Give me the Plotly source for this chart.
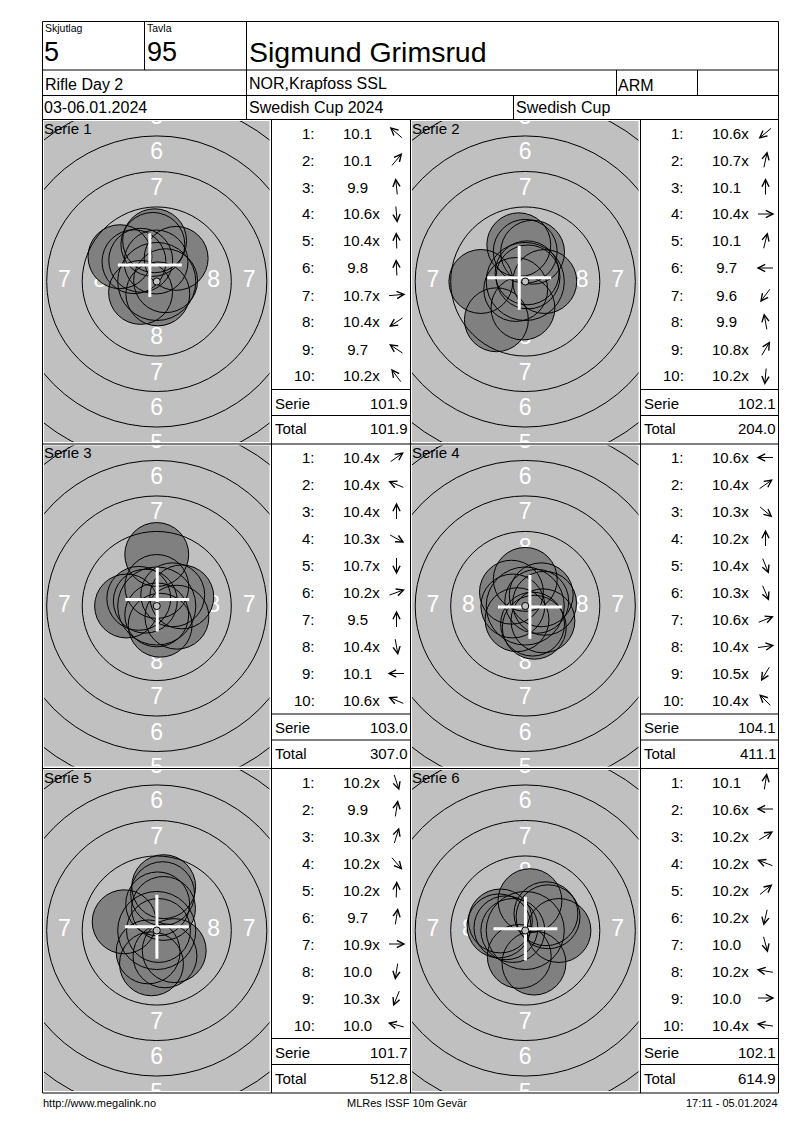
import numpy as np
import plotly.graph_objects as go

# header / footer texts
skjutlag = "5"
tavla = "95"
shooter = "Sigmund Grimsrud"
event = "Rifle Day 2"
club = "NOR,Krapfoss SSL"
klass = "ARM"
dates = "03-06.01.2024"
competition = "Swedish Cup 2024"
cup = "Swedish Cup"
footer_left = "http://www.megalink.no"
footer_mid = "MLRes ISSF 10m Gevär"
footer_right = "17:11 - 05.01.2024"

# shots as printed, and direction of the arrow (degrees, 0 = right, 90 = up)
scores_1 = ["10.1", "10.1", "9.9", "10.6x", "10.4x", "9.8", "10.7x", "10.4x", "9.7", "10.2x"]
angles_1 = [139, 50, 96, 275, 92, 93, 5, 214, 146, 127]
scores_2 = ["10.6x", "10.7x", "10.1", "10.4x", "10.1", "9.7", "9.6", "9.9", "10.8x", "10.2x"]
angles_2 = [220, 78, 90, 0, 76, 180, 233, 100, 59, 265]
scores_3 = ["10.4x", "10.4x", "10.4x", "10.3x", "10.7x", "10.2x", "9.5", "10.4x", "10.1", "10.6x"]
angles_3 = [35, 157, 90, 331, 270, 20, 90, 280, 180, 157]
scores_4 = ["10.6x", "10.4x", "10.3x", "10.2x", "10.4x", "10.3x", "10.6x", "10.4x", "10.5x", "10.4x"]
angles_4 = [180, 35, 320, 90, 292, 293, 22, 8, 239, 135]
scores_5 = ["10.2x", "9.9", "10.3x", "10.2x", "10.2x", "9.7", "10.9x", "10.0", "10.3x", "10.0"]
angles_5 = [288, 81, 73, 311, 88, 81, 0, 261, 248, 165]
scores_6 = ["10.1", "10.6x", "10.2x", "10.2x", "10.2x", "10.2x", "10.0", "10.2x", "10.0", "10.4x"]
angles_6 = [81, 180, 31, 159, 39, 257, 285, 170, 0, 172]

all_scores = [scores_1, scores_2, scores_3, scores_4, scores_5, scores_6]
all_angles = [angles_1, angles_2, angles_3, angles_4, angles_5, angles_6]

# 10m air rifle target (mm)
ring_radius = [2.75, 5.25, 7.75, 10.25, 12.75]
label_text = ["8", "7", "6", "5"]
label_radius = [4.0, 6.5, 9.0, 11.5]
pellet_r = 2.25
dot_r = 0.25

W, H = 800, 1130
FONT = "Arial, Liberation Sans, sans-serif"
MM = 14.2  # px per mm on the page

def px(x):
    return x / W

def py(y):
    return 1 - y / H

col_lines = [42.5, 271.5, 410.5, 640.5, 778.5]
row_lines = [119.5, 444, 768.5, 1093]

fig = go.Figure()
shapes = []
annots = []

def hline(x0, x1, y):
    shapes.append(dict(type="line", xref="paper", yref="paper", x0=px(x0), x1=px(x1),
                       y0=py(y), y1=py(y), line=dict(color="black", width=1), layer="above"))

def vline(x, y0, y1):
    shapes.append(dict(type="line", xref="paper", yref="paper", x0=px(x), x1=px(x),
                       y0=py(y0), y1=py(y1), line=dict(color="black", width=1), layer="above"))

def text(s, x, y, size, anchor="left", color="black"):
    annots.append(dict(text=s, x=px(x), y=py(y), xref="paper", yref="paper", showarrow=False,
                       xanchor=anchor, yanchor="middle", borderpad=0,
                       font=dict(family=FONT, size=size, color=color)))

# header grid
hline(42.5, 778.5, 21.5)
hline(42.5, 778.5, 70)
hline(42.5, 778.5, 95.5)
hline(42.5, 778.5, row_lines[0])
vline(42.5, 21.5, 1093)
vline(778.5, 21.5, 1093)
vline(144.5, 21.5, 70)
vline(246.5, 21.5, row_lines[0])
vline(616.5, 70, 95.5)
vline(697.5, 70, 95.5)
vline(513.5, 95.5, row_lines[0])

text("Skjutlag", 43.5, 28, 10.5)
text(skjutlag, 43, 52, 27)
text("Tavla", 146, 28, 10.5)
text(tavla, 146, 52, 27)
text(shooter, 248, 52, 28.5)
text(event, 43.5, 84, 16)
text(club, 247.5, 83.5, 16)
text(klass, 617, 85, 16)
text(dates, 43, 108, 16)
text(competition, 247.5, 108, 16)
text(cup, 515, 108, 16)

# panel grid
for y in row_lines[1:]:
    hline(42.5, 778.5, y)
for x in col_lines[1:4]:
    vline(x, row_lines[0], row_lines[3])

running = 0.0
for k in range(6):
    r, c = k // 2, k % 2
    top, bottom = row_lines[r], row_lines[r + 1]
    left, right = col_lines[2 * c], col_lines[2 * c + 1]
    lst_l, lst_r = col_lines[2 * c + 1], col_lines[2 * c + 2]

    # target subplot
    gx0, gx1 = left + 1.5, right - 2
    gy0, gy1 = top + 1.5, bottom - 2
    hx = (gx1 - gx0) / 2 / MM
    hy = (gy1 - gy0) / 2 / MM
    sfx = "" if k == 0 else str(k + 1)
    xa, ya = "x" + sfx, "y" + sfx
    fig.layout["xaxis" + sfx] = dict(domain=[px(gx0), px(gx1)], range=[-hx, hx], visible=False,
                                    fixedrange=True, anchor=ya)
    fig.layout["yaxis" + sfx] = dict(domain=[py(gy1), py(gy0)], range=[-hy, hy], visible=False,
                                    fixedrange=True, anchor=xa)

    # ring numbers (only those that reach into the panel)
    lx, ly, lt = [], [], []
    for t, rr in zip(label_text, label_radius):
        for x, y in [(0, rr), (0, -rr), (-rr, 0), (rr, 0)]:
            if abs(x) < hx and abs(y) < hy + 0.6:
                lx.append(x)
                ly.append(y)
                lt.append(t)
    fig.add_trace(go.Scatter(x=lx, y=ly, text=lt, mode="text", xaxis=xa, yaxis=ya,
                             textfont=dict(family=FONT, size=23, color="white"),
                             hoverinfo="skip", showlegend=False, cliponaxis=True))

    vals = np.array([float(s.rstrip("x")) for s in all_scores[k]])
    ang = np.radians(all_angles[k])
    dist = (10.95 - vals) * 2.5
    sx = dist * np.cos(ang)
    sy = dist * np.sin(ang)

    for x, y in zip(sx, sy):
        shapes.append(dict(type="circle", xref=xa, yref=ya, x0=x - pellet_r, x1=x + pellet_r,
                           y0=y - pellet_r, y1=y + pellet_r, fillcolor="#808080",
                           line=dict(width=0), layer="above"))
    for rr in ring_radius:
        shapes.append(dict(type="circle", xref=xa, yref=ya, x0=-rr, x1=rr, y0=-rr, y1=rr,
                           line=dict(color="black", width=1), layer="above"))
    for x, y in zip(sx, sy):
        shapes.append(dict(type="circle", xref=xa, yref=ya, x0=x - pellet_r, x1=x + pellet_r,
                           y0=y - pellet_r, y1=y + pellet_r,
                           line=dict(color="black", width=1), layer="above"))
    mx, my = sx.mean(), sy.mean()
    shapes.append(dict(type="line", xref=xa, yref=ya, x0=mx - pellet_r, x1=mx + pellet_r, y0=my, y1=my,
                       line=dict(color="white", width=3), layer="above"))
    shapes.append(dict(type="line", xref=xa, yref=ya, x0=mx, x1=mx, y0=my - pellet_r, y1=my + pellet_r,
                       line=dict(color="white", width=3), layer="above"))
    shapes.append(dict(type="circle", xref=xa, yref=ya, x0=-dot_r, x1=dot_r, y0=-dot_r, y1=dot_r,
                       fillcolor="#c0c0c0", line=dict(color="black", width=1), layer="above"))

    text("Serie %d" % (k + 1), left, top + 8.5, 15)

    # shot list
    for i, s in enumerate(all_scores[k]):
        yy = top + 13.5 + 27 * i
        text("%d:" % (i + 1), lst_l + 44, yy, 15, anchor="right")
        shown = s if vals[i] >= 10 else "\u00a0" + s
        text(shown, lst_l + 70, yy, 15)
        cx, cy = lst_l + 125, yy
        h = 9
        a = np.radians(all_angles[k][i])
        annots.append(dict(text="", x=px(cx + h * np.cos(a)), y=py(cy - h * np.sin(a)),
                           xref="paper", yref="paper", ax=-2 * h * np.cos(a), ay=2 * h * np.sin(a),
                           axref="pixel", ayref="pixel", showarrow=True, arrowhead=5,
                           arrowsize=1.4, arrowwidth=1, arrowcolor="black", standoff=0))

    serie = vals.sum()
    running += serie
    hline(lst_l, lst_r, top + 270)
    hline(lst_l, lst_r, top + 296)
    text("Serie", lst_l + 2.5, top + 283.5, 15)
    text("%.1f" % serie, lst_r - 2, top + 283.5, 15, anchor="right")
    text("Total", lst_l + 2.5, top + 309.5, 15)
    text("%.1f" % running, lst_r - 2, top + 309.5, 15, anchor="right")

# footer
text(footer_left, 42, 1103, 11)
text(footer_mid, 407, 1103, 11, anchor="center")
text(footer_right, 779, 1103, 11, anchor="right")

fig.update_layout(width=W, height=H, margin=dict(l=0, r=0, t=0, b=0),
                  paper_bgcolor="white", plot_bgcolor="#c0c0c0",
                  shapes=shapes, annotations=annots, showlegend=False)

fig.write_html("out.html", config={"displayModeBar": False},
               post_script="document.body.style.margin='0';")
